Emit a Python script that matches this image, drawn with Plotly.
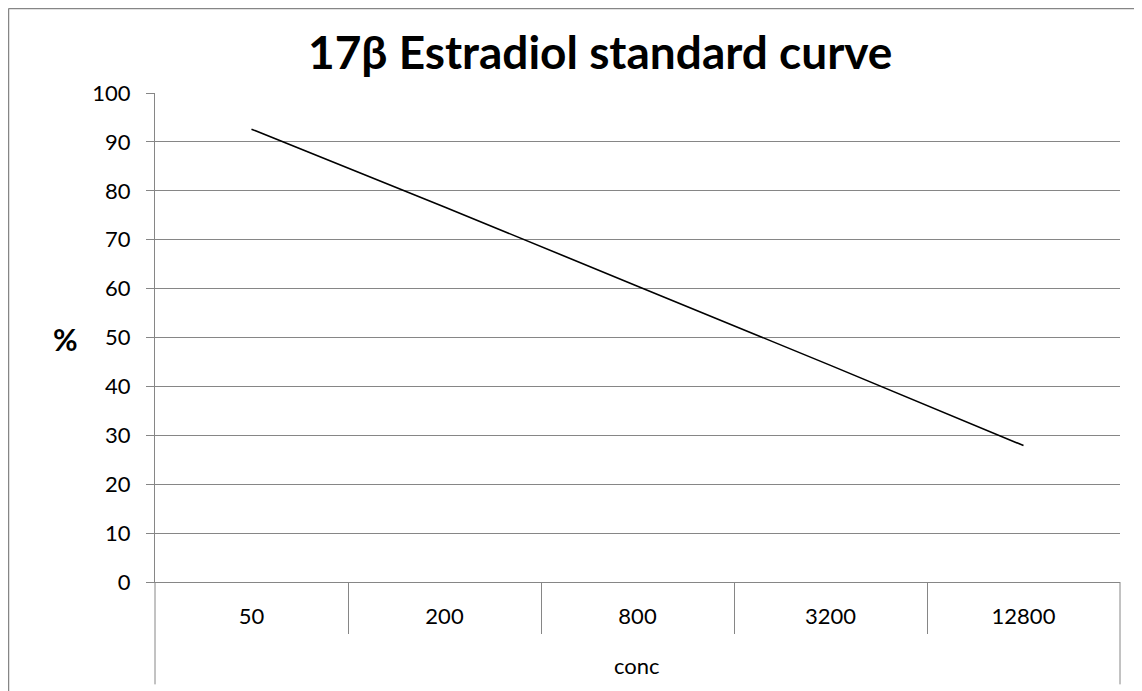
import plotly.graph_objects as go

categories = ["50", "200", "800", "3200", "12800"]
percent = [92.6, 76.7, 60.5, 44.3, 27.9]
y_ticks = [0, 10, 20, 30, 40, 50, 60, 70, 80, 90, 100]
title_text = "17β Estradiol standard curve"
x_title = "conc"
y_title = "%"

# page has an 8px body margin; work in reference pixel coords and shift
OFF = 8
W, H = 1142 - OFF, 691 - OFF
L, R, T, B = 155 - OFF, 1120 - OFF, 93 - OFF, 581.7 - OFF
pw, ph = R - L, B - T
GRID = "#868686"
FONT = "Lato"

def px(x):
    return (x - OFF - L) / pw

def py(y):
    return (B - (y - OFF)) / ph

xpos = list(range(len(categories)))

fig = go.Figure()
fig.add_trace(go.Scatter(x=xpos, y=percent, mode="lines",
                         line=dict(color="black", width=1.6),
                         showlegend=False, hoverinfo="skip"))

fig.update_layout(
    width=W, height=H,
    margin=dict(l=L, r=W - R, t=T, b=H - B),
    paper_bgcolor="white", plot_bgcolor="white",
    font=dict(family=FONT, size=22, color="black"),
    showlegend=False,
)
fig.update_xaxes(
    range=[-0.5, len(categories) - 0.5],
    tickvals=xpos, ticktext=categories,
    ticks="", showgrid=False, zeroline=False,
    showline=True, linecolor=GRID, linewidth=1,
    ticklabelstandoff=15,
    tickfont=dict(family=FONT, size=22, color="black"),
    minor=dict(tickvals=[i + 0.5 for i in xpos[:-1]], ticks="outside",
               ticklen=51, tickcolor=GRID, tickwidth=1),
)
fig.update_yaxes(
    range=[0, 100], tickvals=y_ticks,
    showgrid=True, gridcolor=GRID, gridwidth=1,
    zeroline=False, showline=True, linecolor=GRID, linewidth=1,
    ticks="outside", ticklen=8, tickcolor=GRID, tickwidth=1,
    ticklabelstandoff=11,
    tickfont=dict(family=FONT, size=22, color="black"),
)

shapes = []
# outer category box lines
shapes.append(dict(type="line", xref="paper", yref="paper", x0=0, x1=0,
                   y0=0, y1=py(684), line=dict(color=GRID, width=1)))
shapes.append(dict(type="line", xref="paper", yref="paper", x0=1, x1=1,
                   y0=0, y1=py(684), line=dict(color=GRID, width=1)))
# chart border (left and top edges)
shapes.append(dict(type="line", xref="paper", yref="paper", x0=px(8.5), x1=px(8.5),
                   y0=py(8.5), y1=py(700), line=dict(color=GRID, width=1.5)))
shapes.append(dict(type="line", xref="paper", yref="paper", x0=px(8.5), x1=px(1150),
                   y0=py(8.5), y1=py(8.5), line=dict(color=GRID, width=1.5)))
fig.update_layout(shapes=shapes)

fig.add_annotation(text=f"<b>{title_text}</b>", xref="paper", yref="paper",
                   x=px(600), y=py(52), showarrow=False,
                   font=dict(family=FONT, size=46, color="black"),
                   xanchor="center", yanchor="middle")
fig.add_annotation(text=f"<b>{y_title}</b>", xref="paper", yref="paper",
                   x=px(65), y=py(339), showarrow=False,
                   font=dict(family=FONT, size=30, color="black"),
                   xanchor="center", yanchor="middle")
fig.add_annotation(text=x_title, xref="paper", yref="paper",
                   x=px(637), y=py(665), showarrow=False,
                   font=dict(family=FONT, size=22, color="black"),
                   xanchor="center", yanchor="middle")

fig.write_html("out.html")
